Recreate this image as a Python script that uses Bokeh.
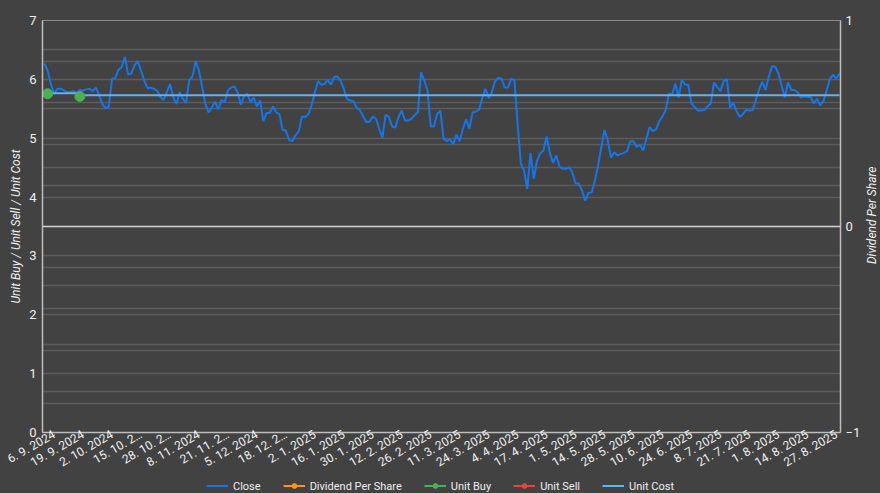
import math
from bokeh.plotting import figure
from bokeh.layouts import column, row
from bokeh.models import (Range1d, LinearAxis, FixedTicker, Grid, Legend,
                          LegendItem, Span, Label)
from bokeh.embed import file_html
from bokeh.resources import INLINE

# ---------------- data ----------------
close = [
    6.27, 6.15, 5.92, 5.75, 5.84, 5.84, 5.82, 5.78, 5.78, 5.80,
    5.77, 5.82, 5.81, 5.83, 5.84, 5.80, 5.86, 5.73, 5.58, 5.51,
    5.54, 6.01, 6.02, 6.16, 6.21, 6.38, 6.08, 6.10, 6.24, 6.31,
    6.15, 5.98, 5.85, 5.86, 5.84, 5.81, 5.70, 5.65, 5.78, 5.92,
    5.70, 5.58, 5.78, 5.67, 5.60, 5.99, 6.05, 6.31, 6.15, 5.87,
    5.58, 5.44, 5.52, 5.62, 5.49, 5.65, 5.61, 5.81, 5.86, 5.88,
    5.78, 5.57, 5.71, 5.76, 5.61, 5.69, 5.54, 5.64, 5.29, 5.43,
    5.43, 5.54, 5.44, 5.41, 5.14, 5.13, 4.97, 4.95, 5.05, 5.12,
    5.37, 5.36, 5.41, 5.56, 5.78, 5.97, 5.91, 5.92, 5.99, 5.91,
    6.04, 6.05, 5.98, 5.84, 5.67, 5.64, 5.63, 5.52, 5.48, 5.37,
    5.27, 5.28, 5.37, 5.33, 5.16, 5.01, 5.40, 5.36, 5.20, 5.18,
    5.36, 5.47, 5.30, 5.30, 5.33, 5.39, 5.44, 6.12, 5.98, 5.81,
    5.20, 5.20, 5.41, 5.47, 4.99, 4.95, 4.98, 4.90, 5.06, 4.95,
    5.16, 5.32, 5.16, 5.44, 5.45, 5.48, 5.68, 5.84, 5.68, 5.78,
    5.97, 6.03, 6.01, 5.86, 5.86, 6.01, 5.99, 5.24, 4.57, 4.45,
    4.14, 4.75, 4.31, 4.61, 4.74, 4.79, 5.03, 4.75, 4.58, 4.71,
    4.52, 4.48, 4.48, 4.51, 4.42, 4.23, 4.23, 4.11, 3.94, 4.07,
    4.08, 4.28, 4.54, 4.85, 5.14, 4.96, 4.67, 4.76, 4.71, 4.73,
    4.75, 4.78, 4.95, 4.95, 4.85, 4.89, 4.79, 4.99, 5.19, 5.12,
    5.15, 5.29, 5.37, 5.48, 5.76, 5.74, 5.93, 5.69, 5.99, 5.91,
    5.91, 5.59, 5.53, 5.47, 5.47, 5.48, 5.54, 5.59, 5.95, 5.87,
    5.80, 5.97, 6.01, 5.52, 5.60, 5.46, 5.36, 5.41, 5.48, 5.47,
    5.47, 5.65, 5.82, 5.96, 5.82, 6.04, 6.22, 6.22, 6.10, 5.90,
    5.69, 5.95, 5.82, 5.82, 5.78, 5.69, 5.71, 5.70, 5.70, 5.59,
    5.67, 5.56, 5.63, 5.81, 6.01, 6.08, 6.01, 6.10,
]

date_labels = [
    "6. 9. 2024", "19. 9. 2024", "2. 10. 2024", "15. 10. 2…", "28. 10. 2…",
    "8. 11. 2024", "21. 11. 2…", "5. 12. 2024", "18. 12. 2…", "2. 1. 2025",
    "16. 1. 2025", "30. 1. 2025", "12. 2. 2025", "26. 2. 2025", "11. 3. 2025",
    "24. 3. 2025", "4. 4. 2025", "17. 4. 2025", "1. 5. 2025", "14. 5. 2025",
    "28. 5. 2025", "10. 6. 2025", "24. 6. 2025", "8. 7. 2025", "21. 7. 2025",
    "1. 8. 2025", "14. 8. 2025", "27. 8. 2025",
]
first_label_index = 3
label_step = 9

buy_index = [1, 11]
buy_price = [5.755, 5.71]
cost_after_buy = [5.765, 5.73]

left_ticks = [0, 1, 2, 3, 4, 5, 6, 7]
left_grid = [0.5, 1, 1.5, 2, 2.5, 3, 3.5, 4, 4.5, 5, 5.5, 6, 6.5]
right_ticks = [-1, 0, 1]
right_grid = [-0.8, -0.6, -0.4, -0.2, 0.2, 0.4, 0.6, 0.8]

series_names = ["Close", "Dividend Per Share", "Unit Buy", "Unit Sell", "Unit Cost"]
left_title = "Unit Buy / Unit Sell / Unit Cost"
right_title = "Dividend Per Share"

# ---------------- derived series ----------------
n = len(close)
idx = list(range(n))
unit_cost = [float("nan")] * n
for k, b in enumerate(buy_index):
    end = buy_index[k + 1] if k + 1 < len(buy_index) else n
    for i in range(b, end):
        unit_cost[i] = cost_after_buy[k]
label_pos = [first_label_index + k * label_step for k in range(len(date_labels))]

# ---------------- styling ----------------
BG = "#424242"
TXT = "#eeeeee"
GRID = "#5c5c5c"
FONT = "Roboto"
CLOSE_C = "#1476ea"
DIV_C = "#ff9800"
BUY_C = "#4caf50"
SELL_C = "#f44336"
COST_C = "#64b0f2"

W, H = 880, 493
LEGEND_H = 15
SIDE_W = 17
MAIN_H = H - LEGEND_H
TOP, BOTTOM = 20, 46

p = figure(width=W - SIDE_W, height=MAIN_H, output_backend="svg",
           toolbar_location=None,
           x_range=Range1d(-0.6, n - 0.7), y_range=Range1d(0, 7),
           background_fill_color=BG, border_fill_color=BG,
           min_border_left=42, min_border_right=18, min_border_top=TOP,
           min_border_bottom=BOTTOM)
p.extra_y_ranges = {"div": Range1d(-1, 1)}
p.outline_line_color = "#8a8a8a"
p.outline_line_width = 1

# grids
p.xgrid.visible = False
p.ygrid.ticker = FixedTicker(ticks=left_grid)
p.ygrid.grid_line_color = GRID
p.ygrid.grid_line_width = 1.3
rgrid = Grid(dimension=1, ticker=FixedTicker(ticks=right_grid), y_range_name="div",
             grid_line_color=GRID, grid_line_width=1.3)
p.add_layout(rgrid)
p.add_layout(Span(location=0, dimension="width", y_range_name="div",
                  line_color="#d0d0d0", line_width=1.5))


def style_axis(ax, size):
    ax.major_tick_line_color = None
    ax.minor_tick_line_color = None
    ax.major_tick_out = 0
    ax.major_tick_in = 0
    ax.minor_tick_out = 0
    ax.minor_tick_in = 0
    ax.axis_line_color = "#bdbdbd"
    ax.axis_line_width = 1.5
    ax.major_label_text_color = TXT
    ax.major_label_text_font = FONT
    ax.major_label_text_font_size = size
    ax.axis_label_text_font_style = "italic"
    ax.axis_label_text_color = TXT
    ax.axis_label_text_font = FONT
    ax.axis_label_text_font_size = "12px"


style_axis(p.xaxis[0], "12px")
style_axis(p.yaxis[0], "13px")

p.yaxis.ticker = FixedTicker(ticks=left_ticks)
p.yaxis.axis_label = left_title
p.yaxis.axis_label_standoff = 3
p.yaxis.major_label_standoff = 6

p.xaxis.ticker = FixedTicker(ticks=label_pos)
p.xaxis.major_label_overrides = {pos: s for pos, s in zip(label_pos, date_labels)}
p.xaxis.major_label_orientation = math.pi / 6
p.xaxis.major_label_standoff = 1

rax = LinearAxis(y_range_name="div", ticker=FixedTicker(ticks=right_ticks))
style_axis(rax, "13px")
rax.major_label_standoff = 5
p.add_layout(rax, "right")

# series
p.line(idx, close, line_color=CLOSE_C, line_width=2)
p.line(idx, unit_cost, line_color=COST_C, line_width=2)
p.scatter(buy_index, buy_price, size=10, fill_color=BUY_C, line_color=BUY_C)

# ---------------- right axis title strip ----------------
side = figure(width=SIDE_W, height=MAIN_H, output_backend="svg",
              toolbar_location=None,
              x_range=Range1d(0, SIDE_W), y_range=Range1d(0, MAIN_H),
              x_axis_location=None, y_axis_location=None,
              background_fill_color=BG, border_fill_color=BG,
              min_border_left=0, min_border_right=0, min_border_top=0,
              min_border_bottom=0)
side.outline_line_color = None
side.grid.visible = False
side.add_layout(Label(x=SIDE_W / 2, y=MAIN_H - (TOP + (MAIN_H - TOP - BOTTOM) / 2),
                      text=right_title, angle=math.pi / 2,
                      text_align="center", text_baseline="middle",
                      text_color=TXT, text_font=FONT, text_font_size="12px",
                      text_font_style="italic"))

# ---------------- legend strip ----------------
lg = figure(width=W, height=LEGEND_H, output_backend="svg", toolbar_location=None,
            x_range=Range1d(0, 1), y_range=Range1d(0, 1),
            x_axis_location=None, y_axis_location=None,
            background_fill_color=BG, border_fill_color=BG,
            min_border_left=0, min_border_right=0, min_border_top=0,
            min_border_bottom=0)
lg.outline_line_color = None
lg.grid.visible = False

nan = [float("nan")]
colors = [CLOSE_C, DIV_C, BUY_C, SELL_C, COST_C]
has_marker = [False, True, True, True, False]
items = []
for name, c, mk in zip(series_names, colors, has_marker):
    rs = [lg.line(nan, nan, line_color=c, line_width=2)]
    if mk:
        rs.append(lg.scatter(nan, nan, size=11, fill_color=c, line_color=c))
    items.append(LegendItem(label=name, renderers=rs))

legend = Legend(items=items, orientation="horizontal", location="center")
legend.background_fill_alpha = 0
legend.border_line_alpha = 0
legend.label_text_color = TXT
legend.label_text_font = FONT
legend.label_text_font_size = "11px"
legend.glyph_width = 22
legend.glyph_height = 12
legend.label_height = 12
legend.spacing = 22
legend.padding = 0
legend.margin = 0
legend.label_standoff = 5
lg.add_layout(legend, "center")

layout = column(row(p, side, spacing=0), lg, spacing=0)

html = file_html(layout, INLINE)
html = html.replace("<head>", '<head><style>html,body{background:#424242;}</style>', 1)
open("out.html", "w").write(html)
